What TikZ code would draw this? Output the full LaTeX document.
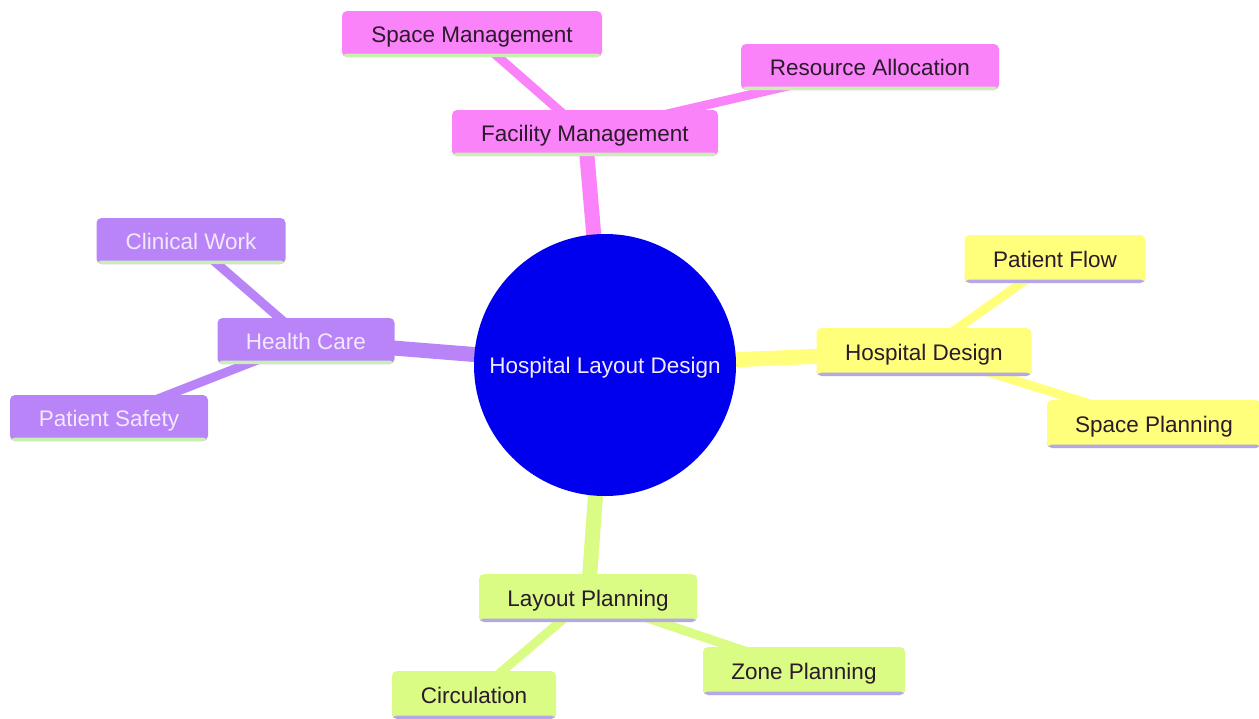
\documentclass[tikz,border=0pt]{standalone}
\usepackage{fontspec}
\setmainfont{Liberation Sans}
\usetikzlibrary{backgrounds}
\definecolor{cpink}{HTML}{FA83FA}
\definecolor{cpurple}{HTML}{B884F8}
\definecolor{cyellow}{HTML}{FFFF7C}
\definecolor{cgreen}{HTML}{DAFB84}
\definecolor{cblue}{HTML}{0000EE}
\definecolor{lgreen}{HTML}{C8F0B0}
\definecolor{lav}{HTML}{B4A8E8}
\definecolor{darktxt}{HTML}{2A1A2A}
\definecolor{lighttxt}{HTML}{F4E8FF}
\tikzset{
  mm/.style={rectangle, rounded corners=5pt, minimum height=46pt, inner sep=0pt,
    text height=16.2pt, text depth=0pt,
    font=\fontsize{22.5}{27}\selectfont},
  under/.style={path picture={\fill[#1] ([yshift=3.5pt]path picture bounding box.south west) rectangle (path picture bounding box.south east);}},
  pinkbox/.style={mm, fill=cpink, text=darktxt, under=lgreen},
  purplebox/.style={mm, fill=cpurple, text=lighttxt, under=lgreen},
  yellowbox/.style={mm, fill=cyellow, text=darktxt, under=lav},
  greenbox/.style={mm, fill=cgreen, text=darktxt, under=lav},
  rootedge/.style={line width=15pt},
  subedge/.style={line width=9pt},
}
\begin{document}
\begin{tikzpicture}[x=1pt,y=-1pt]
\useasboundingbox (0,0) rectangle (1259,718);
\node[circle, fill=cblue, minimum size=262pt, inner sep=0pt, text=lighttxt,
  text height=16.2pt, text depth=0pt,
  font=\fontsize{22.5}{27}\selectfont] (root) at (605,365) {Hospital Layout Design};
% Facility
\node[pinkbox, minimum width=266pt] (fm) at (585,133) {Facility Management};
\node[pinkbox, minimum width=260pt] (sm) at (472,34) {Space Management};
\node[pinkbox, minimum width=258pt] (ra) at (870,67) {Resource Allocation};
% Health care
\node[purplebox, minimum width=177pt] (hc) at (306,341) {Health Care};
\node[purplebox, minimum width=189pt] (cw) at (191,241) {Clinical Work};
\node[purplebox, minimum width=198pt] (ps) at (109,418) {Patient Safety};
% Hospital design
\node[yellowbox, minimum width=215pt, minimum height=48pt] (hd) at (924,352) {Hospital Design};
\node[yellowbox, minimum width=181pt, minimum height=48pt] (pf) at (1055,259) {Patient Flow};
\node[yellowbox, minimum width=214pt, minimum height=48pt] (sp) at (1154,424) {Space Planning};
% Layout planning
\node[greenbox, minimum width=218pt, minimum height=48pt] (lp) at (588,598) {Layout Planning};
\node[greenbox, minimum width=164pt, minimum height=48pt] (ci) at (474,695) {Circulation};
\node[greenbox, minimum width=202pt, minimum height=48pt] (zp) at (804,671) {Zone Planning};
\begin{pgfonlayer}{background}
\draw[rootedge, cpink] (root.center) -- (fm.center);
\draw[rootedge, cpurple] (root.center) -- (hc.center);
\draw[rootedge, cyellow] (root.center) -- (hd.center);
\draw[rootedge, cgreen] (root.center) -- (lp.center);
\draw[subedge, cpink] (fm.center) -- (sm.center);
\draw[subedge, cpink] (fm.center) -- (ra.center);
\draw[subedge, cpurple] (hc.center) -- (cw.center);
\draw[subedge, cpurple] (hc.center) -- (ps.center);
\draw[subedge, cyellow] (hd.center) -- (pf.center);
\draw[subedge, cyellow] (hd.center) -- (sp.center);
\draw[subedge, cgreen] (lp.center) -- (ci.center);
\draw[subedge, cgreen] (lp.center) -- (zp.center);
\end{pgfonlayer}
\end{tikzpicture}
\end{document}
